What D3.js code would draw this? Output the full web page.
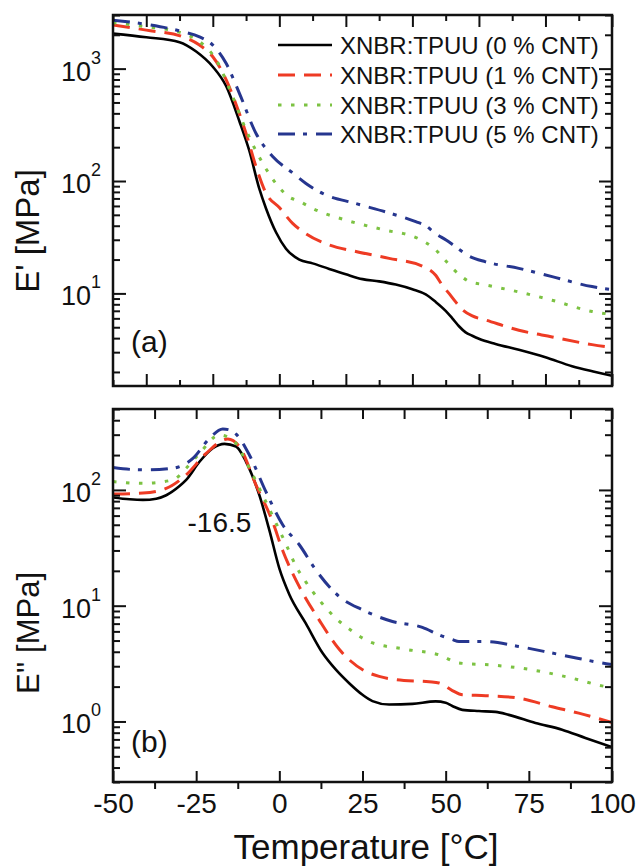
<!DOCTYPE html>
<html><head><meta charset="utf-8">
<script src="https://cdn.jsdelivr.net/npm/d3@7"></script>
<style>
body{margin:0;background:#fff}
svg{display:block}
text{font-family:"Liberation Sans",Arial,Helvetica,sans-serif;fill:#111}
</style>
</head><body>
<svg id="chart" width="639" height="868"></svg>
<script>
// ---------- DATA ----------
const seriesLabels = ["XNBR:TPUU (0 % CNT)","XNBR:TPUU (1 % CNT)","XNBR:TPUU (3 % CNT)","XNBR:TPUU (5 % CNT)"];

// Storage modulus E' [MPa] (panel a)
const tStor0 = [-50,-40,-30,-25,-20,-16,-12,-9,-6,-4,-1,2,6,10,15,20,25,30,35,40,44,47,50,52,54,56,58,60,65,72,80,88,95,100];
const eStor0 = [2050,1900,1720,1420,1040,700,340,185,85,57,35,25,20,18.5,16.5,14.8,13.4,12.8,12.0,10.9,9.8,8.4,7.0,6.0,5.1,4.5,4.2,3.95,3.55,3.15,2.7,2.25,2.0,1.85];

const tStor1 = [-50,-40,-29,-24,-20,-16,-13,-10,-7,-4,0,4,8,15,23,33,43,47,49,51,53,55,58,62,72,82,94,100];
const eStor1 = [2450,2200,1920,1620,1275,800,480,265,134,78,58,42,34,27,23.6,20.5,17.5,14.5,11.8,10,8.4,7.2,6.3,5.8,4.7,4.1,3.5,3.3];

const tStor3 = [-50,-40,-29,-24,-19,-14,-10,-5,-1,3,6,10,21,31,42,47,50,52,55,57,62,72,82,94,100];
const eStor3 = [2560,2360,2060,1740,1200,560,284,144,95,72,66,57,44,37,30.5,24.4,19.5,16.8,14,12.8,11.9,10.3,8.7,6.9,6.5];

const tStor5 = [-50,-39,-29,-24,-20,-16,-12,-7,-2,4,8,13,23,33,41,44,47,50,53,57,62,72,82,94,100];
const eStor5 = [2700,2450,2130,1920,1620,1115,603,265,165,118,95,77.5,63,52,43.5,40,34,30,26,21.5,19.1,16.7,14.1,11.5,10.8];

// Loss modulus E'' [MPa] (panel b)
const tLoss0 = [-50,-45,-41,-37,-34,-30,-28,-24,-20,-16.5,-13,-10,-6,-3,0,3,8,13,17,21,25,28,33,40,47,50,52,55,60,65,69,77,85,92,100];
const eLoss0 = [86,83,82,84,90,108,122,175,229,250,237,175,90,45,21,12.5,7.0,3.9,2.8,2.14,1.7,1.5,1.40,1.42,1.49,1.45,1.36,1.26,1.23,1.21,1.14,0.97,0.85,0.72,0.6];

const tLoss1 = [-50,-41,-34,-28,-22,-15.5,-12,-7,-2,1,4,6,12,18,26,30,35,45,48,52,55,62,72,82,90,100];
const eLoss1 = [92,94,103,135,207,275,236,110,53,30,19,14.6,7.5,4.2,2.7,2.45,2.3,2.2,2.15,1.85,1.7,1.67,1.59,1.34,1.18,0.98];

const tLoss3 = [-50,-41,-32,-28,-24,-18,-14,-9,-5,0,2,5,8,12,17,22,27,38,48,54,64,75,86,97,100];
const eLoss3 = [118,114,122,154,207,298,270,154,90,45,34,22,16,11.2,7.8,6.0,4.9,4.2,3.76,3.2,3.07,2.82,2.44,2.03,1.95];

const tLoss5 = [-50,-44,-39,-32,-26,-21,-17,-15,-13,-9,-4,1,6,11,18,25,34,43,48,52,54,62,72,82,90,97,100];
const eLoss5 = [156,150,149,154,187,279,336,330,303,200,96,50,33.6,20.3,12,9.2,7.3,6.5,5.6,5.1,4.9,4.9,4.44,3.9,3.5,3.2,3.1];

const xTicksTopPanel = [-50,-40,-30,-20,-10,0,10,20,30,40,50,60,70,80,90,100];
const xTicksBottomMajor = [-50,-25,0,25,50,75,100];
const xTicksBottomMinor = [-37.5,-12.5,12.5,37.5,62.5,87.5];
const peakLabel = "-16.5";
const peakTemp = -16.5;

// ---------- STYLE ----------
const colors = ["#000000","#ee3b24","#7cc242","#26368f"];
const dashes = [null,"17,9","3.5,9.5","17,8,4,9"];
const widths = [2.6,3,3,3];

const svg = d3.select("#chart");
svg.append("rect").attr("width",639).attr("height",868).attr("fill","#fff");

const L = 113, R = 612;
const x = d3.scaleLinear().domain([-50,100]).range([L,R]);
const yA = d3.scaleLog().domain([1.5,3000]).range([386,15]);
const yB = d3.scaleLog().domain([0.3,500]).range([782,409]);

const defs = svg.append("defs");
defs.append("clipPath").attr("id","clipA").append("rect").attr("x",L).attr("y",15).attr("width",R-L).attr("height",371);
defs.append("clipPath").attr("id","clipB").append("rect").attr("x",L).attr("y",409).attr("width",R-L).attr("height",373);

function drawCurves(y, clip, sets){
  const g = svg.append("g").attr("clip-path",`url(#${clip})`);
  const line = d3.line().x(d=>x(d[0])).y(d=>y(d[1])).curve(d3.curveMonotoneX);
  sets.forEach((s,i)=>{
    const pts = s[0].map((t,j)=>[t,s[1][j]]);
    g.append("path").attr("d",line(pts)).attr("fill","none")
      .attr("stroke",colors[i]).attr("stroke-width",widths[i])
      .attr("stroke-dasharray",dashes[i]).attr("stroke-linejoin","round");
  });
}

drawCurves(yA,"clipA",[[tStor0,eStor0],[tStor1,eStor1],[tStor3,eStor3],[tStor5,eStor5]]);
drawCurves(yB,"clipB",[[tLoss0,eLoss0],[tLoss1,eLoss1],[tLoss3,eLoss3],[tLoss5,eLoss5]]);

function styleAxis(g){
  g.select(".domain").remove();
  g.selectAll(".tick line").attr("stroke","#111").attr("stroke-width",2);
  g.selectAll(".tick text").attr("fill","#111");
}

function logAxes(y, top, bottom){
  const all = y.ticks().filter(v=>v>=y.domain()[0]&&v<=y.domain()[1]);
  const major = all.filter(v=>Math.abs(Math.log10(v)-Math.round(Math.log10(v)))<1e-9);
  const minor = all.filter(v=>!major.includes(v));
  [[L,1],[R,-1]].forEach(([px,dir])=>{
    const mk = (vals,len)=>{
      const ax = (dir===1?d3.axisLeft(y):d3.axisRight(y)).tickValues(vals).tickSize(-len).tickFormat("");
      svg.append("g").attr("transform",`translate(${px},0)`).call(ax).call(styleAxis);
    };
    mk(major,13); mk(minor,7);
  });
  major.forEach(v=>{
    const e = Math.round(Math.log10(v));
    const t = svg.append("text").attr("x",101).attr("y",y(v)+12).attr("text-anchor","end").attr("font-size",27);
    t.append("tspan").text("10");
    t.append("tspan").attr("dy",-17).attr("font-size",18).text(e);
  });
  svg.append("rect").attr("x",L).attr("y",top).attr("width",R-L).attr("height",bottom-top)
    .attr("fill","none").attr("stroke","#111").attr("stroke-width",2.5);
}

// Panel (a) x ticks: every 10, longer at multiples of 20
const majA = xTicksTopPanel.filter(v=>v%20===0), minA = xTicksTopPanel.filter(v=>v%20!==0);
[[majA,12],[minA,6]].forEach(([vals,len])=>{
  svg.append("g").attr("transform","translate(0,386)").call(d3.axisBottom(x).tickValues(vals).tickSize(-len).tickFormat("")).call(styleAxis);
  svg.append("g").attr("transform","translate(0,15)").call(d3.axisTop(x).tickValues(vals).tickSize(-len).tickFormat("")).call(styleAxis);
});
logAxes(yA,15,386);

// Panel (b) x ticks
svg.append("g").attr("transform","translate(0,409)").call(d3.axisTop(x).tickValues(xTicksBottomMajor.concat(xTicksBottomMinor)).tickSize(-10).tickFormat("")).call(styleAxis);
const xb = svg.append("g").attr("transform","translate(0,782)").call(d3.axisBottom(x).tickValues(xTicksBottomMajor).tickSize(-11).tickPadding(11).tickFormat(d3.format("d"))).call(styleAxis);
xb.selectAll(".tick text").attr("font-size",28).attr("font-family","Liberation Sans, Arial, sans-serif").text(d=>String(d).replace("−","-"));
svg.append("g").attr("transform","translate(0,782)").call(d3.axisBottom(x).tickValues(xTicksBottomMinor).tickSize(7).tickFormat("")).call(styleAxis);
logAxes(yB,409,782);

// Axis titles
svg.append("text").attr("transform","translate(39,231) rotate(-90)").attr("text-anchor","middle").attr("font-size",33).text("E' [MPa]");
svg.append("text").attr("transform","translate(39,633) rotate(-90)").attr("text-anchor","middle").attr("font-size",31).text("E'' [MPa]");
svg.append("text").attr("x",366).attr("y",859).attr("text-anchor","middle").attr("font-size",35).text("Temperature [°C]");

// Panel labels
svg.append("text").attr("x",131).attr("y",352).attr("font-size",30).text("(a)");
svg.append("text").attr("x",131).attr("y",752).attr("font-size",30).text("(b)");

// Peak annotation
svg.append("text").attr("x",x(peakTemp)-5).attr("y",532).attr("text-anchor","middle").attr("font-size",28).text(peakLabel);

// Legend
const legY = [45,75,105,134];
seriesLabels.forEach((lab,i)=>{
  svg.append("line").attr("x1",278).attr("x2",332).attr("y1",legY[i]).attr("y2",legY[i])
    .attr("stroke",colors[i]).attr("stroke-width",widths[i]).attr("stroke-dasharray",dashes[i]);
  svg.append("text").attr("x",340).attr("y",legY[i]+8.5).attr("font-size",24).text(lab);
});
</script>
</body></html>
